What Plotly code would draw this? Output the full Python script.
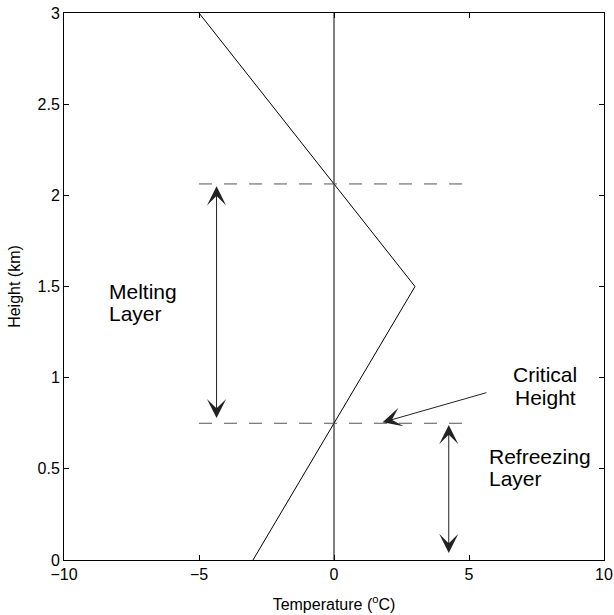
import plotly.graph_objects as go

# temperature profile
temp_profile = [-3, 3, -5]
height_profile = [0, 1.5, 3]
# reference lines
zero_line_x = [0, 0]
zero_line_y = [0, 3]
melt_top = 2.0625
crit_height = 0.75
dash_x = [-5, 5]
x_ticks = [-10, -5, 0, 5, 10]
x_tick_text = ["\u221210", "\u22125", "0", "5", "10"]
y_ticks = [0, 0.5, 1, 1.5, 2, 2.5, 3]
y_tick_text = ["0", "0.5", "1", "1.5", "2", "2.5", "3"]

fig = go.Figure()
fig.add_trace(go.Scatter(x=temp_profile, y=height_profile, mode="lines",
                         line=dict(color="black", width=1), showlegend=False))
fig.add_trace(go.Scatter(x=zero_line_x, y=zero_line_y, mode="lines",
                         line=dict(color="black", width=1), showlegend=False))
for yv in [melt_top, crit_height]:
    fig.add_trace(go.Scatter(x=dash_x, y=[yv, yv], mode="lines",
                             line=dict(color="#555", width=1, dash="13px,12px"), showlegend=False))

font_lbl = dict(family="Liberation Sans, Arial", size=21, color="black")

def double_arrow(x, y0, y1):
    fig.add_annotation(x=x, y=y1, ax=x, ay=y0, xref="x", yref="y", axref="x", ayref="y",
                       text="", showarrow=True, arrowside="end+start",
                       arrowhead=3, startarrowhead=3, arrowsize=3.2, startarrowsize=3.2,
                       arrowwidth=1, arrowcolor="#222", standoff=0, startstandoff=0)

double_arrow(-4.35, 0.77, 2.05)
double_arrow(4.25, 0.03, 0.74)

fig.add_annotation(x=1.8, y=0.755, ax=5.7, ay=0.92, xref="x", yref="y", axref="x", ayref="y",
                   text="", showarrow=True, arrowhead=3, arrowsize=3.2, arrowwidth=1, arrowcolor="#222")

def label(x, y, text, anchor):
    fig.add_annotation(x=x, y=y, text=text, showarrow=False, font=font_lbl, xanchor=anchor)

label(-8.4, 1.475, "Melting", "left")
label(-8.4, 1.35, "Layer", "left")
label(7.83, 1.015, "Critical", "center")
label(7.83, 0.89, "Height", "center")
label(5.68, 0.57, "Refreezing", "left")
label(5.68, 0.445, "Layer", "left")

axis_common = dict(showgrid=False, zeroline=False, showline=True, linecolor="black", linewidth=1,
                   mirror="ticks", ticks="inside", ticklen=5, tickcolor="black", automargin=False,
                   tickfont=dict(family="Liberation Sans, Arial", size=16, color="black"))
fig.update_xaxes(range=[-10, 10], tickvals=x_ticks, ticktext=x_tick_text,
                 title=dict(text="Temperature (<sup>o</sup>C)", font=dict(family="Liberation Sans, Arial", size=16, color="black"), standoff=16),
                 **axis_common)
fig.update_yaxes(range=[0, 3], tickvals=y_ticks, ticktext=y_tick_text,
                 title=dict(text="Height (km)", font=dict(family="Liberation Sans, Arial", size=16, color="black"), standoff=12),
                 **axis_common)
fig.update_layout(width=614, height=615, margin=dict(l=64, r=10, t=13, b=55),
                  plot_bgcolor="white", paper_bgcolor="white")
fig.write_html("out.html", config={"displayModeBar": False},
               post_script="document.body.style.margin='0';document.body.style.overflow='hidden';")
